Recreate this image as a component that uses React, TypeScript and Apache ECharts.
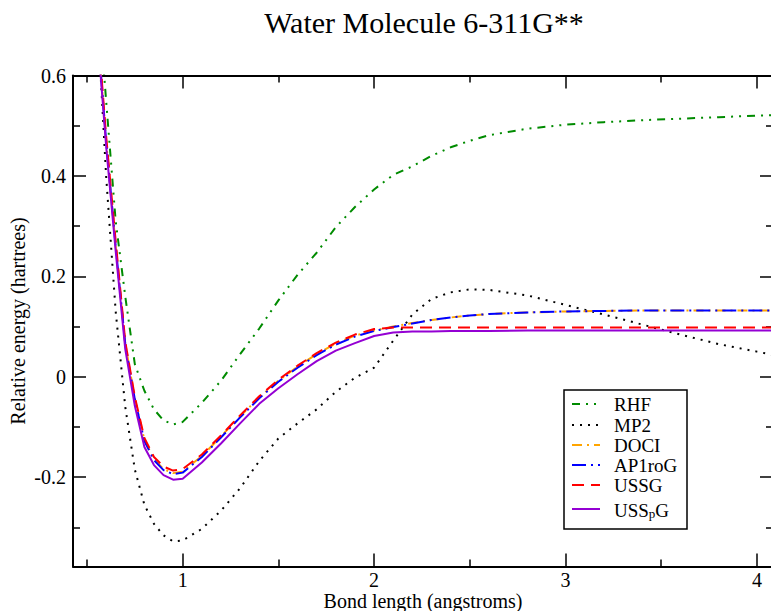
import React, { useEffect, useRef } from "react";
import * as echarts from "echarts";

// ---- data ----
const bondLengths = [0.5, 0.6, 0.65, 0.7, 0.75, 0.8, 0.85, 0.9, 0.95, 1.0, 1.1, 1.2, 1.3, 1.4, 1.5, 1.6, 1.7, 1.8, 1.9, 2.0, 2.1, 2.2, 2.3, 2.4, 2.5, 2.6, 2.8, 3.0, 3.2, 3.4, 3.6, 3.8, 4.0, 4.2];

const rhf = [1.05, 0.55, 0.31, 0.16, 0.025, -0.028, -0.065, -0.087, -0.095, -0.09, -0.052, -0.008, 0.045, 0.096, 0.152, 0.203, 0.247, 0.298, 0.338, 0.373, 0.402, 0.419, 0.44, 0.457, 0.47, 0.481, 0.494, 0.502, 0.507, 0.511, 0.514, 0.517, 0.52, 0.522];
const mp2 = [1.1, 0.4, 0.13, -0.06, -0.185, -0.255, -0.293, -0.316, -0.328, -0.326, -0.303, -0.267, -0.222, -0.168, -0.123, -0.093, -0.065, -0.03, -0.002, 0.018, 0.072, 0.124, 0.155, 0.168, 0.174, 0.173, 0.162, 0.143, 0.124, 0.104, 0.084, 0.065, 0.05, 0.035];
const doci = [0.96, 0.47, 0.26, 0.066, -0.044, -0.126, -0.164, -0.184, -0.192, -0.189, -0.158, -0.119, -0.079, -0.041, -0.008, 0.02, 0.045, 0.066, 0.082, 0.092, 0.1, 0.107, 0.113, 0.118, 0.122, 0.125, 0.128, 0.13, 0.131, 0.132, 0.132, 0.132, 0.132, 0.132];
const ap1rog = [0.96, 0.47, 0.26, 0.065, -0.045, -0.128, -0.166, -0.186, -0.194, -0.191, -0.16, -0.121, -0.081, -0.043, -0.01, 0.018, 0.043, 0.064, 0.08, 0.091, 0.099, 0.106, 0.113, 0.118, 0.122, 0.125, 0.128, 0.13, 0.131, 0.132, 0.132, 0.132, 0.132, 0.132];
const ussg = [0.97, 0.48, 0.27, 0.07, -0.04, -0.122, -0.16, -0.179, -0.187, -0.184, -0.155, -0.117, -0.077, -0.039, -0.006, 0.022, 0.047, 0.068, 0.084, 0.095, 0.098, 0.098, 0.098, 0.098, 0.098, 0.098, 0.098, 0.098, 0.098, 0.098, 0.098, 0.098, 0.098, 0.098];
const usspg = [0.95, 0.46, 0.25, 0.055, -0.058, -0.14, -0.176, -0.196, -0.205, -0.203, -0.171, -0.133, -0.093, -0.054, -0.023, 0.005, 0.031, 0.052, 0.067, 0.081, 0.088, 0.09, 0.09, 0.091, 0.091, 0.091, 0.092, 0.092, 0.092, 0.092, 0.092, 0.092, 0.092, 0.092];

const seriesNames = ["RHF", "MP2", "DOCI", "AP1roG", "USSG", "USSpG"];
const seriesValues = [rhf, mp2, doci, ap1rog, ussg, usspg];

const xMajorTicks = [1, 2, 3, 4];
const xMinorTicks = [0.5, 1.5, 2.5, 3.5];
const yMajorTicks = [-0.2, 0, 0.2, 0.4, 0.6];
const yMinorTicks = [-0.3, -0.1, 0.1, 0.3, 0.5];

const titleText = "Water Molecule 6-311G**";
const xAxisTitle = "Bond length (angstroms)";
const yAxisTitle = "Relative energy (hartrees)";

// ---- styles ----
const FONT = "Liberation Serif";
const seriesColors = ["#008b00", "#000000", "#ffa500", "#0000ff", "#ff0000", "#9400d3"];
const seriesDashes: (number[] | "solid")[] = [
  [8, 6, 2, 6, 2, 6],
  [2, 6],
  [10, 5, 2, 5],
  [14, 5, 2, 5],
  [12, 7],
  "solid",
];

const X_MIN = 0.427;
const X_MAX = 4.084;
const Y_MIN = -0.378;
const Y_MAX = 0.6;

function makeX(position: "top" | "bottom", ticks: number[], len: number, main: boolean, labels: boolean) {
  return {
    type: "value",
    position,
    min: X_MIN,
    max: X_MAX,
    splitLine: { show: false },
    axisLine: { show: main, onZero: false, lineStyle: { color: "#000", width: 2 } },
    axisTick: { show: true, inside: true, length: len, customValues: ticks, lineStyle: { color: "#000", width: 1.5 } },
    axisLabel: labels
      ? { show: true, customValues: ticks, color: "#000", fontFamily: FONT, fontSize: 20, margin: 3 }
      : { show: false },
    ...(labels
      ? {
          name: xAxisTitle,
          nameLocation: "middle",
          nameGap: 24,
          nameMoveOverlap: false,
          nameTextStyle: { color: "#000", fontFamily: FONT, fontSize: 20 },
        }
      : {}),
  };
}

function makeY(position: "left" | "right", ticks: number[], len: number, main: boolean, labels: boolean) {
  return {
    type: "value",
    position,
    min: Y_MIN,
    max: Y_MAX,
    splitLine: { show: false },
    axisLine: { show: main, onZero: false, lineStyle: { color: "#000", width: 2 } },
    axisTick: { show: true, inside: true, length: len, customValues: ticks, lineStyle: { color: "#000", width: 1.5 } },
    axisLabel: labels
      ? {
          show: true,
          customValues: ticks,
          color: "#000",
          fontFamily: FONT,
          fontSize: 20,
          margin: 7,
          formatter: (v: number) => (Math.abs(v) < 1e-9 ? "0" : String(v)),
        }
      : { show: false },
    ...(labels
      ? {
          name: yAxisTitle,
          nameLocation: "middle",
          nameGap: 45,
          nameMoveOverlap: false,
          nameTextStyle: { color: "#000", fontFamily: FONT, fontSize: 20 },
        }
      : {}),
  };
}

export default function App() {
  const ref = useRef<HTMLDivElement>(null);

  useEffect(() => {
    if (!ref.current) return;
    const chart = echarts.init(ref.current, null, { renderer: "svg" });

    const series = seriesNames.map((name, i) => ({
      name,
      type: "line",
      xAxisIndex: 0,
      yAxisIndex: 0,
      symbol: "none",
      clip: true,
      data: bondLengths.map((x, j) => [x, seriesValues[i][j]]),
      lineStyle: { color: seriesColors[i], width: 2, type: seriesDashes[i] },
      itemStyle: { color: seriesColors[i] },
      z: 2 + i,
    }));

    // legend drawn as graphic elements
    const legendLeft = 564;
    const legendTop = 390;
    const rowY = [404, 425, 445, 465, 485, 507];
    const legendElems: any[] = [
      {
        type: "rect",
        shape: { x: legendLeft, y: legendTop, width: 123, height: 139 },
        style: { fill: "#fff", stroke: "#000", lineWidth: 1.5 },
        z: 100,
      },
    ];
    seriesNames.forEach((name, i) => {
      const dash = seriesDashes[i];
      legendElems.push({
        type: "line",
        shape: { x1: 572, y1: rowY[i] + (i === 5 ? 2 : 0), x2: 600, y2: rowY[i] + (i === 5 ? 2 : 0) },
        style: {
          stroke: seriesColors[i],
          lineWidth: 2,
          lineDash: dash === "solid" ? null : dash,
        },
        z: 101,
      });
      const isSub = name === "USSpG";
      legendElems.push({
        type: "text",
        x: 614,
        y: rowY[i] + (isSub ? 3 : 0),
        style: {
          text: isSub ? "{a|USS}{p|p}{a|G}" : name,
          fill: "#000",
          fontFamily: FONT,
          fontSize: 19,
          verticalAlign: "middle",
          align: "left",
          rich: isSub
            ? {
                a: { fontFamily: FONT, fontSize: 19, fill: "#000" },
                p: { fontFamily: FONT, fontSize: 13, fill: "#000", padding: [7, 0, 0, 0] },
              }
            : undefined,
        },
        z: 101,
      });
    });

    chart.setOption({
      animation: false,
      backgroundColor: "#fff",
      title: {
        text: titleText,
        left: 424,
        top: 7,
        padding: 0,
        textAlign: "center",
        textStyle: { color: "#000", fontFamily: FONT, fontSize: 30, fontWeight: "normal" },
      },
      grid: {
        left: 73,
        top: 75.5,
        right: -2,
        bottom: 44.5,
        containLabel: false,
        outerBoundsMode: "none",
      },
      xAxis: [
        makeX("bottom", xMajorTicks, 13, true, true),
        makeX("bottom", xMinorTicks, 7, false, false),
        makeX("top", xMajorTicks, 13, true, false),
        makeX("top", xMinorTicks, 7, false, false),
      ],
      yAxis: [
        makeY("left", yMajorTicks, 13, true, true),
        makeY("left", yMinorTicks, 7, false, false),
        makeY("right", yMajorTicks, 13, true, false),
        makeY("right", yMinorTicks, 7, false, false),
      ],
      series,
      graphic: { elements: legendElems },
    } as any);

    return () => chart.dispose();
  }, []);

  return (
    <div
      ref={ref}
      style={{ position: "fixed", left: 0, top: 0, width: 771, height: 611, background: "#fff" }}
    />
  );
}
